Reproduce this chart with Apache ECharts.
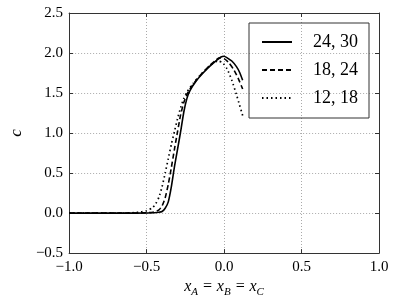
<!DOCTYPE html>
<html>
<head>
<meta charset="utf-8">
<script src="https://cdn.jsdelivr.net/npm/echarts@6/dist/echarts.min.js"></script>
<style>html,body{margin:0;padding:0;background:#fff}#c{width:395px;height:303px}</style>
</head>
<body>
<div id="c"></div>
<script>
var seriesNames = ['24, 30', '18, 24', '12, 18'];
var x1 = [-1.0, -0.6, -0.45, -0.42, -0.40, -0.38, -0.36, -0.34, -0.32, -0.30, -0.28, -0.26, -0.24, -0.22, -0.18, -0.14, -0.10, -0.06, -0.02, 0.0, 0.02, 0.05, 0.08, 0.10, 0.12];
var y1 = [0, 0, 0.005, 0.01, 0.02, 0.06, 0.14, 0.33, 0.58, 0.80, 1.02, 1.26, 1.43, 1.53, 1.65, 1.74, 1.82, 1.89, 1.95, 1.96, 1.94, 1.90, 1.83, 1.76, 1.66];
var x2 = [-1.0, -0.6, -0.5, -0.46, -0.44, -0.42, -0.40, -0.38, -0.36, -0.34, -0.32, -0.30, -0.28, -0.26, -0.24, -0.22, -0.18, -0.14, -0.10, -0.06, -0.03, 0.0, 0.03, 0.06, 0.09, 0.12];
var y2 = [0, 0, 0.005, 0.01, 0.02, 0.04, 0.09, 0.19, 0.36, 0.57, 0.80, 1.02, 1.23, 1.38, 1.48, 1.55, 1.66, 1.75, 1.83, 1.90, 1.94, 1.93, 1.88, 1.80, 1.69, 1.55];
var x3 = [-1.0, -0.65, -0.55, -0.50, -0.46, -0.44, -0.42, -0.40, -0.38, -0.36, -0.34, -0.32, -0.30, -0.28, -0.26, -0.24, -0.20, -0.16, -0.12, -0.08, -0.04, -0.01, 0.02, 0.05, 0.08, 0.10, 0.12];
var y3 = [0, 0, 0.01, 0.03, 0.07, 0.12, 0.20, 0.33, 0.50, 0.68, 0.86, 1.02, 1.18, 1.32, 1.43, 1.51, 1.62, 1.71, 1.79, 1.86, 1.90, 1.88, 1.80, 1.66, 1.48, 1.35, 1.22];

function pairs(xs, ys) { return xs.map(function (x, i) { return [x, ys[i]]; }); }
function fmt(v) { return v.toFixed(1).replace('-', '\u2212'); }

var FONT = 'Liberation Serif';
var lineTypes = ['solid', [5, 3], [1.5, 3]];
var lineWidths = [1.6, 1.6, 1.7];
var datas = [pairs(x1, y1), pairs(x2, y2), pairs(x3, y3)];

var gridLine = { show: true, lineStyle: { color: '#aaa', type: [1, 2], width: 1 } };
var axisLine = { show: true, onZero: false, lineStyle: { color: '#333', width: 1 } };
var axisTick = { show: true, inside: true, length: 4, lineStyle: { color: '#333' } };

var chart = echarts.init(document.getElementById('c'), null, { renderer: 'canvas' });
chart.setOption({
  animation: false,
  backgroundColor: '#fff',
  grid: { left: 61, right: 16, top: 13, bottom: 44 },
  legend: {
    orient: 'vertical',
    left: 249, top: 23,
    padding: [10, 11, 11, 12],
    borderColor: '#333', borderWidth: 1,
    itemWidth: 30, itemHeight: 14, itemGap: 10,
    itemStyle: { opacity: 0, borderWidth: 0 },
    textStyle: { fontFamily: FONT, fontSize: 18, color: '#000', padding: [0, 0, 0, 16] },
    data: seriesNames
  },
  xAxis: [{
    type: 'value', min: -1, max: 1, interval: 0.5,
    axisLine: axisLine,
    axisTick: axisTick,
    axisLabel: { formatter: fmt, fontFamily: FONT, fontSize: 15, color: '#000', margin: 6 },
    splitLine: gridLine,
    name: '{i|x}{s|A}{i| = x}{s|B}{i| = x}{s|C}',
    nameLocation: 'middle', nameGap: 17,
    nameTextStyle: {
      rich: {
        i: { fontFamily: FONT, fontStyle: 'italic', fontSize: 16, color: '#000', verticalAlign: 'top', lineHeight: 18 },
        s: { fontFamily: FONT, fontStyle: 'italic', fontSize: 11, color: '#000', verticalAlign: 'top', padding: [8, 0, 0, 0], lineHeight: 18 }
      }
    }
  }, {
    type: 'value', min: -1, max: 1, interval: 0.5, position: 'top',
    axisLine: axisLine, axisTick: axisTick,
    axisLabel: { show: false }, splitLine: { show: false }
  }],
  yAxis: [{
    type: 'value', min: -0.5, max: 2.5, interval: 0.5,
    axisLine: axisLine,
    axisTick: axisTick,
    axisLabel: { formatter: fmt, fontFamily: FONT, fontSize: 15, color: '#000', margin: 6 },
    splitLine: gridLine,
    name: 'c', nameLocation: 'middle', nameGap: 44, nameRotate: 90,
    nameTextStyle: { fontFamily: FONT, fontStyle: 'italic', fontSize: 17, color: '#000' }
  }, {
    type: 'value', min: -0.5, max: 2.5, interval: 0.5, position: 'right',
    axisLine: axisLine, axisTick: axisTick,
    axisLabel: { show: false }, splitLine: { show: false }
  }],
  series: seriesNames.map(function (n, i) {
    return {
      name: n, type: 'line', data: datas[i], showSymbol: false, symbol: 'none',
      smooth: 0.2, xAxisIndex: 0, yAxisIndex: 0,
      lineStyle: { color: '#000', width: lineWidths[i], type: lineTypes[i] },
      itemStyle: { color: '#000' }
    };
  })
});
</script>
</body>
</html>
